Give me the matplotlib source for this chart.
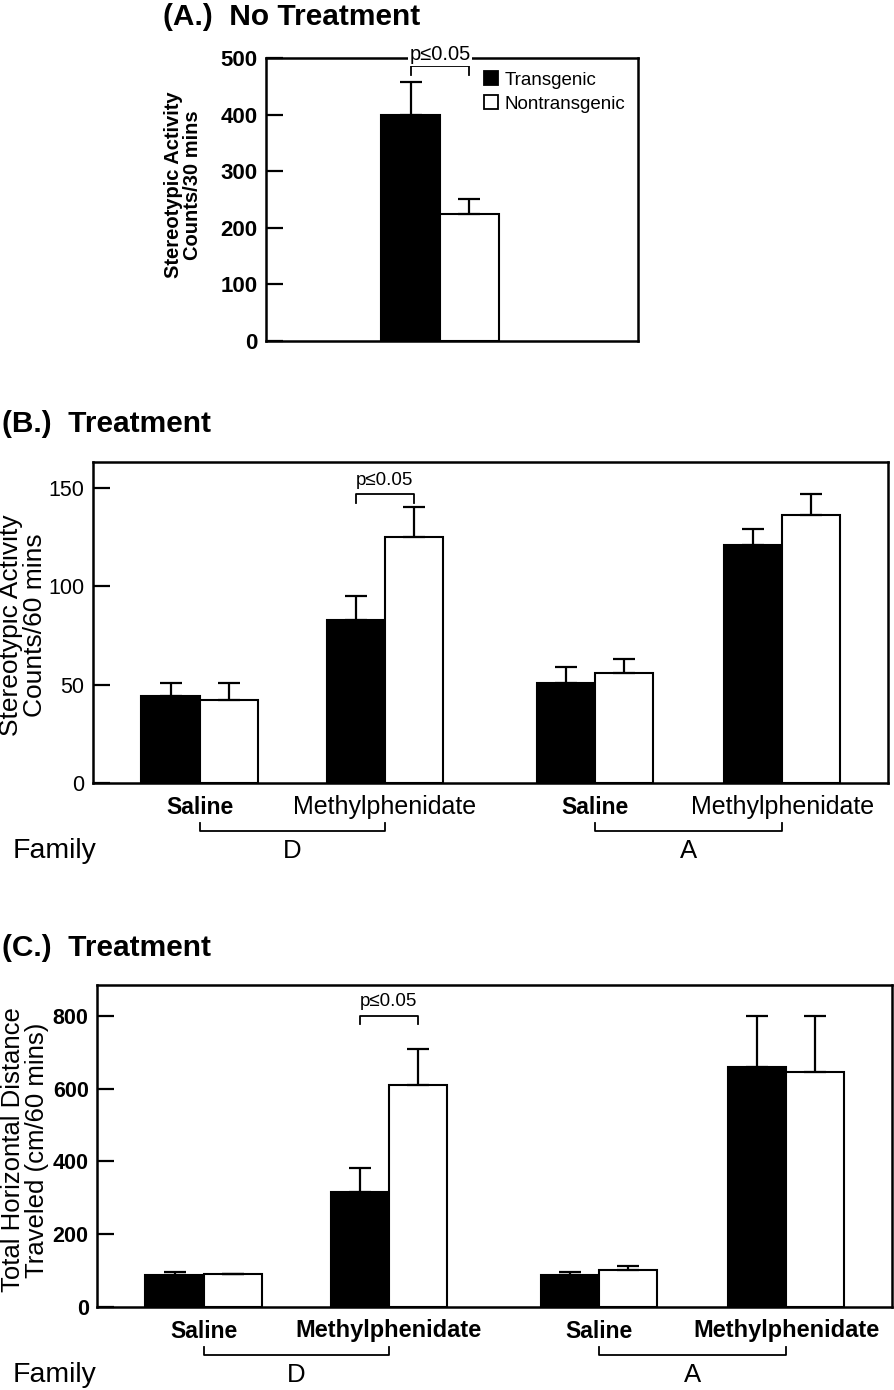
import numpy as np
import matplotlib
matplotlib.use("Agg")
import matplotlib.pyplot as plt
from matplotlib import transforms
from matplotlib.lines import Line2D

plt.rcParams['font.family'] = ['Liberation Sans', 'DejaVu Sans']

W, H = 895, 1390

# ---- data ----
series = ["Transgenic", "Nontransgenic"]
treatments = ["Saline", "Methylphenidate", "Saline", "Methylphenidate"]
families = ["D", "A"]

# (A) no treatment, counts / 30 min
a_mean = [400, 224]
a_err = [58, 27]

# (B) stereotypic activity, counts / 60 min
b_tg = [44, 83, 51, 121]
b_tg_err = [7, 12, 8, 8]
b_ntg = [42, 125, 56, 136]
b_ntg_err = [9, 15, 7, 11]

# (C) total horizontal distance, cm / 60 min
c_tg = [89, 316, 88, 661]
c_tg_err = [8, 66, 8, 138]
c_ntg = [91, 609, 101, 646]
c_ntg_err = [0, 100, 11, 153]


def box(l, t, r, b):
    return [l / W, 1 - b / H, (r - l) / W, (b - t) / H]


def style_axis(ax, ticks, ymax, labelweight, labelsize):
    ax.set_ylim(0, ymax)
    ax.set_xlim(0, 1)
    ax.set_yticks(ticks)
    ax.set_xticks([])
    ax.tick_params(axis='y', direction='in', length=12, width=1.6,
                   labelsize=labelsize, pad=6)
    for lab in ax.get_yticklabels():
        lab.set_fontweight(labelweight)
    for s in ax.spines.values():
        s.set_linewidth(1.8)


def draw_bars(ax, pos, tg, tg_err, ntg, ntg_err, w):
    pos = np.asarray(pos)
    ax.bar(pos - w / 2, tg, w, color='black', edgecolor='black', lw=1.5, zorder=2)
    ax.bar(pos + w / 2, ntg, w, color='white', edgecolor='black', lw=1.5, zorder=2)
    kw = dict(fmt='none', ecolor='black', elinewidth=1.6, capsize=8,
              capthick=1.6, zorder=3)
    ax.errorbar(pos - w / 2, tg, yerr=[np.zeros(len(tg)), tg_err], **kw)
    ax.errorbar(pos + w / 2, ntg, yerr=[np.zeros(len(ntg)), ntg_err], **kw)


def sig_bracket(ax, x0, x1, ytop, yleg, ytext, size):
    ax.plot([x0, x0, x1, x1], [yleg, ytop, ytop, yleg], color='black',
            lw=1.3, clip_on=False, zorder=4)
    ax.text((x0 + x1) / 2, ytext, "p≤0.05", ha='center', va='center',
            fontsize=size, zorder=5,
            bbox=dict(facecolor='white', edgecolor='none', pad=1))


fig = plt.figure(figsize=(W / 100, H / 100), dpi=100)

# ---------------- (A.) ----------------
axA = fig.add_axes(box(266, 58, 638, 341))
a_pos = [0.468]
a_w = 0.158
draw_bars(axA, a_pos, a_mean[:1], a_err[:1], a_mean[1:], a_err[1:], a_w)
style_axis(axA, [0, 100, 200, 300, 400, 500], 500, 'bold', 16)
sig_bracket(axA, a_pos[0] - a_w / 2, a_pos[0] + a_w / 2, 486, 470, 506, 14.5)
handles = [Line2D([], [], marker='s', ls='none', markersize=9.5,
                  markerfacecolor=c, markeredgecolor='black', markeredgewidth=1.3)
           for c in ('black', 'white')]
axA.legend(handles, series, loc='upper left', bbox_to_anchor=(0.56, 0.978),
           frameon=False, fontsize=13.5, handletextpad=0.2, labelspacing=0.35,
           borderaxespad=0, handlelength=1.0)
fig.text(183 / W, 1 - 185 / H, "Stereotypic Activity\nCounts/30 mins",
         rotation=90, ha='center', va='center', fontsize=14.5,
         fontweight='bold', linespacing=1.0)
fig.text(163 / W, 1 - 17 / H, "(A.)  No Treatment", fontsize=21.5,
         fontweight='bold', ha='left', va='center')

# ---------------- (B.) and (C.) ----------------
grp_pos = [0.134, 0.367, 0.631, 0.867]
grp_w = 0.073


def treatment_panel(rect, bottom_px, tg, tg_err, ntg, ntg_err, ymax, ticks,
                    tickweight, sig, ylabel, ylabel_xy, ylabel_size, title,
                    title_y, sal_style, mph_style):
    ax = fig.add_axes(box(*rect))
    draw_bars(ax, grp_pos, tg, tg_err, ntg, ntg_err, grp_w)
    style_axis(ax, ticks, ymax, tickweight, 15.5)
    sig_bracket(ax, grp_pos[1] - grp_w / 2, grp_pos[1] + grp_w / 2, *sig, 13.5)

    tr = transforms.blended_transform_factory(ax.transData, fig.transFigure)

    def fy(off):
        return 1 - (bottom_px + off) / H

    for x, name in zip(grp_pos, treatments):
        wt, sz = sal_style if name == "Saline" else mph_style
        ax.text(x, fy(24), name, transform=tr, ha='center', va='center',
                fontsize=sz, fontweight=wt)
    for i, fam in enumerate(families):
        x0, x1 = grp_pos[2 * i], grp_pos[2 * i + 1]
        ax.add_line(Line2D([x0, x0, x1, x1], [fy(40), fy(48), fy(48), fy(40)],
                           transform=tr, color='black', lw=1.3, clip_on=False))
        ax.text((x0 + x1) / 2, fy(68), fam, transform=tr, ha='center',
                va='center', fontsize=18.5)
    fig.text(13 / W, fy(68), "Family", ha='left', va='center', fontsize=20.5)
    fig.text(ylabel_xy[0] / W, 1 - ylabel_xy[1] / H, ylabel, rotation=90,
             ha='center', va='center', fontsize=ylabel_size, linespacing=1.0)
    fig.text(2 / W, 1 - title_y / H, title, fontsize=21.5, fontweight='bold',
             ha='left', va='center')
    return ax


treatment_panel((93, 462, 888, 783), 783, b_tg, b_tg_err, b_ntg, b_ntg_err,
                163, [0, 50, 100, 150], 'normal', (146.7, 142.1, 153.8),
                "Stereotypic Activity\nCounts/60 mins", (23, 625), 19,
                "(B.)  Treatment", 424, ('bold', 16.5), ('normal', 18))

treatment_panel((97, 985, 892, 1307), 1307, c_tg, c_tg_err, c_ntg, c_ntg_err,
                885, [0, 200, 400, 600, 800], 'bold', (801, 779, 839),
                "Total Horizontal Distance\nTraveled (cm/60 mins)", (25, 1150),
                18.5, "(C.)  Treatment", 948, ('bold', 16.5), ('bold', 17))

fig.savefig("out.png", dpi=100)
